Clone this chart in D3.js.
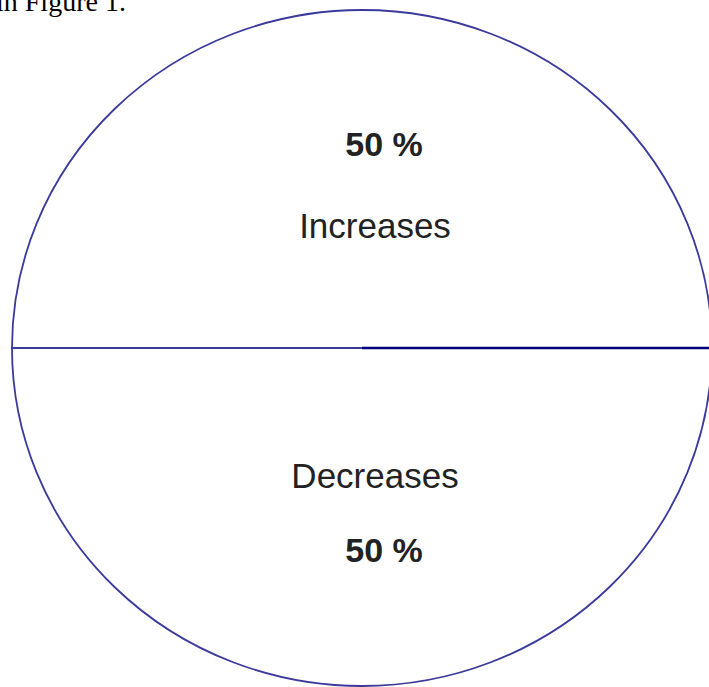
<!DOCTYPE html>
<html>
<head>
<meta charset="utf-8">
<script src="https://cdn.jsdelivr.net/npm/d3@7"></script>
<style>
  body { margin: 0; background: #fff; }
  svg { display: block; }
</style>
</head>
<body>
<svg id="chart" width="709" height="687"></svg>
<script>
const categories = ['Increases', 'Decreases'];
const values = [50, 50];
const pctLabels = ['50 %', '50 %'];

const W = 709, H = 687;
const cx = 362, cy = 348;
const rx = 350, ry = 338;

const svg = d3.select('#chart');

// caption text cut off at the top of the page (as in the source)
svg.append('text')
    .attr('x', -4)
    .attr('y', 11)
    .attr('font-family', 'Liberation Serif, Times New Roman, serif')
    .attr('font-size', 28)
    .attr('fill', '#000')
    .text('in Figure 1.');

const data = categories.map((c, i) => ({ cat: c, value: values[i], pct: pctLabels[i] }));

// first slice starts at the left (9 o'clock), goes over the top
const pie = d3.pie()
    .value(d => d.value)
    .sort(null)
    .startAngle(-Math.PI / 2)
    .endAngle(3 * Math.PI / 2);

const arcs = pie(data);
const arc = d3.arc().innerRadius(0).outerRadius(rx);

// the pie is drawn slightly squashed vertically
const g = svg.append('g')
    .attr('transform', 'translate(' + cx + ',' + cy + ') scale(1,' + (ry / rx) + ')');

g.selectAll('path.slice')
    .data(arcs)
    .enter()
    .append('path')
        .attr('class', 'slice')
        .attr('d', arc)
        .attr('fill', '#fff')
        .attr('stroke', '#3a3a9c')
        .attr('stroke-width', 1.8)
        .attr('vector-effect', 'non-scaling-stroke');

// the radius at the end of the first slice is drawn darker
const a = arcs[0].endAngle;
g.append('line')
    .attr('x1', 0).attr('y1', 0)
    .attr('x2', rx * Math.sin(a)).attr('y2', -rx * Math.cos(a))
    .attr('stroke', '#000080')
    .attr('stroke-width', 2.6)
    .attr('vector-effect', 'non-scaling-stroke');

// labels: top slice -> percent then name, bottom slice -> name then percent
const labelLayout = [
    { pctY: -192, catY: -110 },
    { catY: 140, pctY: 214 }
];

const font = 'Liberation Sans, Arial, Helvetica, sans-serif';

const lab = svg.append('g')
    .attr('transform', 'translate(' + cx + ',' + cy + ')');

lab.selectAll('text.pct')
    .data(data)
    .enter()
    .append('text')
        .attr('class', 'pct')
        .attr('x', 22)
        .attr('y', (d, i) => labelLayout[i].pctY)
        .attr('text-anchor', 'middle')
        .attr('font-family', font)
        .attr('font-weight', 'bold')
        .attr('font-size', 34)
        .attr('fill', '#222')
        .text(d => d.pct);

lab.selectAll('text.cat')
    .data(data)
    .enter()
    .append('text')
        .attr('class', 'cat')
        .attr('x', 13)
        .attr('y', (d, i) => labelLayout[i].catY)
        .attr('text-anchor', 'middle')
        .attr('font-family', font)
        .attr('font-size', 35)
        .attr('fill', '#222')
        .text(d => d.cat);
</script>
</body>
</html>
